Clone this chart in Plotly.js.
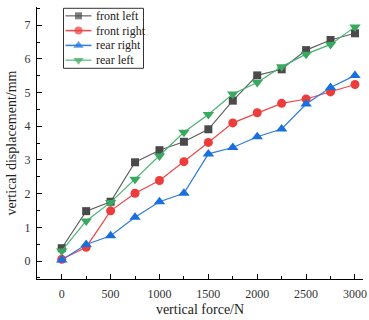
<!DOCTYPE html>
<html>
<head>
<meta charset="utf-8">
<script src="https://cdn.plot.ly/plotly-3.0.1.min.js"></script>
<style>
  html, body { margin: 0; padding: 0; background: #fff; }
  #chart { width: 369px; height: 320px; }
</style>
</head>
<body>
<div id="chart"></div>
<script>
// Applied vertical force (N)
const force = [0, 250, 500, 750, 1000, 1250, 1500, 1750, 2000, 2250, 2500, 2750, 3000];

// Vertical displacement at each wheel position (mm)
const frontLeft  = [0.38, 1.48, 1.76, 2.93, 3.29, 3.54, 3.91, 4.76, 5.51, 5.69, 6.26, 6.56, 6.76];
const frontRight = [0.05, 0.41, 1.49, 2.01, 2.39, 2.95, 3.52, 4.10, 4.40, 4.68, 4.81, 5.02, 5.24];
const rearRight  = [0.03, 0.49, 0.75, 1.30, 1.76, 2.01, 3.18, 3.37, 3.69, 3.92, 4.66, 5.15, 5.51];
const rearLeft   = [0.30, 1.19, 1.74, 2.43, 3.12, 3.82, 4.35, 4.96, 5.30, 5.77, 6.14, 6.43, 6.95];

const seriesNames = ['front left', 'front right', 'rear right', 'rear left'];

const xTicks = [0, 500, 1000, 1500, 2000, 2500, 3000];
const yTicks = [0, 1, 2, 3, 4, 5, 6, 7];

const serif = 'Liberation Serif, Times New Roman, serif';

// Per-series styling: line colour, marker colour, legend line colour, symbol, size
const styles = [
  { line: '#606060', marker: '#4a4a4a', key: '#8a8a8a', symbol: 'square',        size: 8,  keySize: 7 },
  { line: '#ee4646', marker: '#ee3b3b', key: '#f05050', symbol: 'circle',        size: 9,  keySize: 8 },
  { line: '#2f7ae2', marker: '#1a6fdf', key: '#3a82e4', symbol: 'triangle-up',   size: 10, keySize: 9 },
  { line: '#48b474', marker: '#3aa860', key: '#7ccc9a', symbol: 'triangle-down', size: 10, keySize: 9 }
];
const values = [frontLeft, frontRight, rearRight, rearLeft];

// Plot area size in pixels (used by the pixel-based legend overlay)
const M = { l: 37, r: 6, t: 7, b: 41 };
const W = 369, H = 320;
const PW = W - M.l - M.r, PH = H - M.t - M.b;

const data = values.map((y, i) => ({
  x: force, y: y, name: seriesNames[i], type: 'scatter', mode: 'lines+markers',
  showlegend: false,
  line: { color: styles[i].line, width: 1.2 },
  marker: { color: styles[i].marker, symbol: styles[i].symbol, size: styles[i].size, line: { width: 0 } }
}));

// Compact legend drawn on a pixel overlay axis pair (x2/y2, y grows downward)
const box = { x0: 26.5, x1: 106.5, y0: 1.3, y1: 61.3 };
const rowY = [8.8, 23.6, 38.4, 53.2];
const keyX = [28.5, 41.5, 54.5];
const textX = 57.3;

seriesNames.forEach((name, i) => {
  data.push({
    x: keyX, y: [rowY[i], rowY[i], rowY[i]], xaxis: 'x2', yaxis: 'y2',
    type: 'scatter', mode: 'lines+markers', showlegend: false, hoverinfo: 'skip',
    line: { color: styles[i].key, width: 1.6 },
    marker: { color: styles[i].marker, symbol: styles[i].symbol,
              size: [0, styles[i].keySize, 0], line: { width: 0 } }
  });
});

const annotations = seriesNames.map((name, i) => ({
  text: name, xref: 'x2', yref: 'y2', x: textX, y: rowY[i],
  xanchor: 'left', yanchor: 'middle', showarrow: false,
  font: { family: serif, size: 12, color: '#222' }
}));

const axisCommon = {
  showline: true, linecolor: '#000', linewidth: 1.2, mirror: false,
  showgrid: false, zeroline: false,
  ticks: 'inside', ticklen: 5, tickwidth: 1, tickcolor: '#000',
  tickfont: { family: serif, size: 12, color: '#333' }
};

const layout = {
  width: W, height: H,
  margin: M,
  paper_bgcolor: '#fff', plot_bgcolor: '#fff',
  showlegend: false,
  xaxis: Object.assign({}, axisCommon, {
    range: [-253, 3082],
    tickvals: xTicks, ticktext: xTicks.map(String),
    ticklabelstandoff: 3,
    minor: { ticks: 'inside', ticklen: 3, tickwidth: 1, tickcolor: '#000', dtick: 250, tick0: 0 },
    title: { text: 'vertical force/N', font: { family: serif, size: 14, color: '#222' }, standoff: 4 }
  }),
  yaxis: Object.assign({}, axisCommon, {
    range: [-0.534, 7.54],
    tickvals: yTicks, ticktext: yTicks.map(String),
    ticklabelstandoff: 3,
    minor: { ticks: 'inside', ticklen: 3, tickwidth: 1, tickcolor: '#000', dtick: 0.5, tick0: 0 },
    title: { text: 'vertical displacement/mm', font: { family: serif, size: 14, color: '#222' }, standoff: 4 }
  }),
  xaxis2: { overlaying: 'x', anchor: 'y2', range: [0, PW], visible: false, fixedrange: true },
  yaxis2: { overlaying: 'y', anchor: 'x2', range: [PH, 0], visible: false, fixedrange: true },
  shapes: [{
    type: 'rect', xref: 'x2', yref: 'y2',
    x0: box.x0, x1: box.x1, y0: box.y0, y1: box.y1,
    line: { color: '#333', width: 1 }, fillcolor: '#fff', layer: 'below'
  }],
  annotations: annotations
};

Plotly.newPlot('chart', data, layout, { displayModeBar: false, staticPlot: true });
</script>
</body>
</html>
